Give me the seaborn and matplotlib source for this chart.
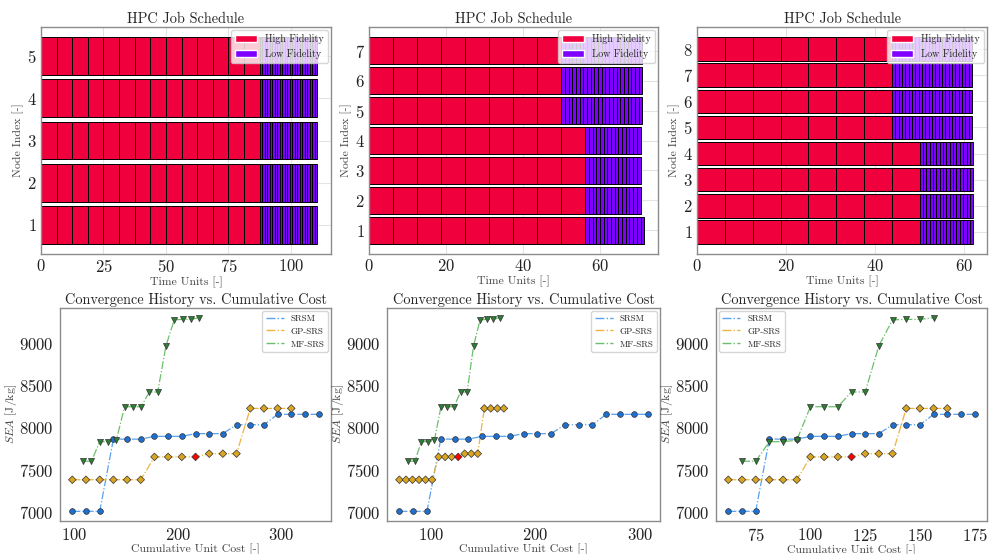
import numpy as np
import pandas as pd
import matplotlib
matplotlib.use("Agg")
import matplotlib.pyplot as plt
from matplotlib.patches import Patch
from matplotlib.lines import Line2D
import seaborn as sns

# ---------------------------------------------------------------- data
HF_DURATION = 6.25

# job schedule: per node, number of high / low fidelity jobs and LF job length
SCHED_NODES = [[1, 2, 3, 4, 5],
               [1, 2, 3, 4, 5, 6, 7],
               [1, 2, 3, 4, 5, 6, 7, 8]]
SCHED_HF_COUNT = [[14, 14, 14, 14, 14],
                  [9, 9, 9, 9, 8, 8, 8],
                  [8, 8, 8, 8, 7, 7, 7, 7]]
SCHED_LF_COUNT = [[23, 23, 23, 23, 23],
                  [16, 15, 15, 15, 22, 22, 22],
                  [16, 16, 16, 16, 24, 24, 24, 24]]
SCHED_LF_DURATION = [1.0, 0.96, 0.75]

# convergence history (cumulative unit cost vs. best SEA)
SRSM_COST = [
    [98.1, 111.3, 124.6, 137.8, 151.0, 164.2, 177.5, 190.7, 203.9, 217.2,
     230.4, 243.6, 256.8, 270.1, 283.3, 296.5, 309.7, 323.0, 336.2],
    [69.9, 83.1, 96.3, 109.5, 122.7, 135.9, 149.1, 162.3, 175.5, 188.7,
     201.9, 215.1, 228.3, 241.5, 254.7, 267.9, 281.1, 294.3, 307.5],
    [62.5, 68.75, 75.0, 81.25, 87.5, 93.75, 100.0, 106.25, 112.5, 118.75,
     125.0, 131.25, 137.5, 143.75, 150.0, 156.25, 162.5, 168.75, 175.0],
]
GP_COST = [
    [98.1, 111.3, 124.6, 137.8, 151.0, 164.2, 177.5, 190.7, 203.9, 217.2,
     230.4, 243.6, 256.8, 270.1, 283.3, 296.5, 309.7],
    [69.9, 76.2, 82.4, 88.7, 94.9, 101.2, 107.4, 113.7, 119.9, 126.2,
     132.4, 138.7, 144.9, 151.2, 157.4, 163.7, 169.9],
    [62.5, 68.75, 75.0, 81.25, 87.5, 93.75, 100.0, 106.25, 112.5, 118.75,
     125.0, 131.25, 137.5, 143.75, 150.0, 156.25, 162.5],
]
MF_COST = [
    [108.6, 116.6, 124.6, 132.6, 140.6, 148.6, 156.6, 164.6, 172.6, 180.6,
     188.6, 196.6, 204.6, 212.6, 220.6],
    [78.4, 84.7, 90.9, 97.2, 103.4, 109.7, 115.9, 122.2, 128.4, 134.7,
     140.9, 147.2, 153.4, 159.7, 165.9],
    [68.75, 75.0, 81.25, 87.5, 93.75, 100.0, 106.25, 112.5, 118.75, 125.0,
     131.25, 137.5, 143.75, 150.0, 156.25],
]
SRSM_SEA = [7012, 7012, 7012, 7865, 7865, 7865, 7898, 7898, 7898, 7930,
            7930, 7930, 8035, 8035, 8035, 8158, 8158, 8158, 8158]
GP_SEA = [7385, 7385, 7385, 7385, 7385, 7385, 7655, 7655, 7655, 7655,
          7693, 7693, 7693, 8228, 8228, 8228, 8228]
MF_SEA = [7604, 7604, 7835, 7835, 7852, 8248, 8248, 8248, 8422, 8422,
          8968, 9275, 9280, 9280, 9300]
GP_HIGHLIGHT = 9  # GP-SRS iterate drawn in red
LEGEND_LOC = ["upper right", "upper right", "upper left"]

# ---------------------------------------------------------------- style
sns.set_style("white")
plt.rcParams.update({
    "font.family": ["cmr10", "DejaVu Serif"],
    "mathtext.fontset": "cm",
    "axes.formatter.use_mathtext": True,
    "axes.unicode_minus": False,
    "axes.edgecolor": "#8c8c8c",
    "axes.linewidth": 1.0,
    "xtick.color": "#8c8c8c",
    "ytick.color": "#8c8c8c",
    "xtick.labelcolor": "#222222",
    "ytick.labelcolor": "#222222",
})

HF_COLOR = "#f0003c"
LF_COLOR = "#8000ff"
SRSM_LINE, SRSM_MARK = "#5aa2ec", "#1f6fcf"
GP_LINE, GP_MARK = "#eeb341", "#daa520"
MF_LINE, MF_MARK = "#6cbf6c", "#2e7d32"

W, H = 989, 554
fig = plt.figure(figsize=(W / 100, H / 100), dpi=100)


def px_axes(l, t, r, b):
    return fig.add_axes([l / W, 1 - b / H, (r - l) / W, (b - t) / H])


top_boxes = [(41, 27, 331, 254), (369, 27, 658, 254), (697, 27, 987, 254)]
bot_boxes = [(60, 308, 331, 521), (387, 308, 660, 521), (716, 308, 987, 521)]

TICK_FS = 12
LABEL_FS = 8.5
TITLE_FS = 10.3
LEG_FS = 7.2

# ---------------------------------------------------------------- schedules
for k, box in enumerate(top_boxes):
    ax = px_axes(*box)
    for node, n_hf, n_lf in zip(SCHED_NODES[k], SCHED_HF_COUNT[k], SCHED_LF_COUNT[k]):
        hf_starts = [i * HF_DURATION for i in range(n_hf)]
        ax.barh([node] * n_hf, [HF_DURATION] * n_hf, left=hf_starts, height=0.9,
                color=HF_COLOR, edgecolor="black", linewidth=0.7)
        t0 = n_hf * HF_DURATION
        lf_starts = [t0 + j * SCHED_LF_DURATION[k] for j in range(n_lf)]
        ax.barh([node] * n_lf, [SCHED_LF_DURATION[k]] * n_lf, left=lf_starts,
                height=0.9, color=LF_COLOR, edgecolor="black", linewidth=0.7)
    ax.set_yticks(SCHED_NODES[k])
    ax.grid(True, color="#e3e3e3", linewidth=0.8)
    ax.set_axisbelow(True)
    ax.tick_params(labelsize=TICK_FS, length=0, pad=3)
    ax.set_title("HPC Job Schedule", fontsize=TITLE_FS, pad=3)
    ax.set_xlabel("Time Units [-]", fontsize=LABEL_FS, color="#444444", labelpad=1)
    ax.set_ylabel("Node Index [-]", fontsize=LABEL_FS, color="#444444", labelpad=2)
    handles = [Patch(facecolor=HF_COLOR, label="High Fidelity"),
               Patch(facecolor=LF_COLOR, label="Low Fidelity")]
    ax.legend(handles=handles, loc="upper right", fontsize=LEG_FS,
              framealpha=0.8, borderaxespad=0.3, handlelength=2.2)

# ---------------------------------------------------------------- convergence
for k, box in enumerate(bot_boxes):
    ax = px_axes(*box)
    df_s = pd.DataFrame({"cost": SRSM_COST[k], "sea": SRSM_SEA})
    df_g = pd.DataFrame({"cost": GP_COST[k], "sea": GP_SEA})
    df_m = pd.DataFrame({"cost": MF_COST[k], "sea": MF_SEA})

    for df, lc in [(df_s, SRSM_LINE), (df_g, GP_LINE), (df_m, MF_LINE)]:
        sns.lineplot(data=df, x="cost", y="sea", ax=ax, color=lc,
                     linestyle="-.", linewidth=0.9, sort=False, zorder=2)

    sns.scatterplot(data=df_s, x="cost", y="sea", ax=ax, marker="o", s=17,
                    color=SRSM_MARK, edgecolor="#333333", linewidth=0.5, zorder=3)
    gp_colors = [("red" if i == GP_HIGHLIGHT else GP_MARK) for i in range(len(df_g))]
    sns.scatterplot(data=df_g, x="cost", y="sea", ax=ax, marker="D", s=15,
                    c=gp_colors, edgecolor="#333333", linewidth=0.5, zorder=3)
    sns.scatterplot(data=df_m, x="cost", y="sea", ax=ax, marker="v", s=19,
                    color=MF_MARK, edgecolor="#333333", linewidth=0.5, zorder=3)

    ax.set_yticks([7000, 7500, 8000, 8500, 9000])
    ax.tick_params(labelsize=TICK_FS, length=3, width=0.8, pad=1.5)
    ax.set_title("Convergence History vs. Cumulative Cost", fontsize=TITLE_FS, pad=3)
    ax.set_xlabel("Cumulative Unit Cost [-]", fontsize=LABEL_FS, color="#444444", labelpad=0)
    ax.set_ylabel(r"$SEA$ [J/kg]", fontsize=LABEL_FS, color="#444444", labelpad=0)
    handles = [Line2D([], [], color=SRSM_LINE, linestyle="-.", linewidth=1.0, label="SRSM"),
               Line2D([], [], color=GP_LINE, linestyle="-.", linewidth=1.0, label="GP-SRS"),
               Line2D([], [], color=MF_LINE, linestyle="-.", linewidth=1.0, label="MF-SRS")]
    ax.legend(handles=handles, loc=LEGEND_LOC[k], fontsize=LEG_FS - 0.7,
              framealpha=0.8, borderaxespad=0.3)

fig.savefig("out.png", dpi=100)
